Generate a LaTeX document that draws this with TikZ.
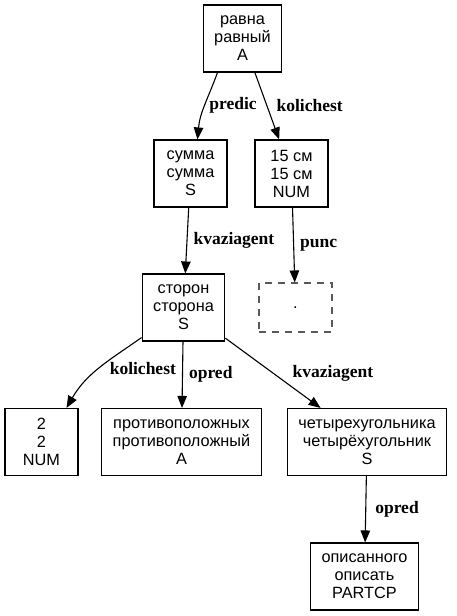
\documentclass[tikz,border=0pt]{standalone}
\usepackage{fontspec}
\setmainfont{Liberation Sans}
\newfontfamily\lblfont{Liberation Serif}
\usetikzlibrary{arrows.meta,positioning}

\begin{document}
\begin{tikzpicture}[x=1pt,y=1pt,>={Triangle[length=12pt,width=9.5pt]},
  word/.style={draw,line width=1.1pt,align=center,minimum width=73pt,
    minimum height=67pt,inner xsep=11pt,font=\fontsize{16.3}{18}\selectfont},
  gap/.style={draw=black!65,dash pattern=on 7pt off 6pt,line width=1.1pt,
    minimum width=73pt,minimum height=49pt,font=\fontsize{16.3}{18}\selectfont},
  rel/.style={font=\lblfont\bfseries\fontsize{17.5}{20}\selectfont,
    anchor=west,inner sep=4pt},
  link/.style={->,line width=1.1pt}]

  \useasboundingbox (0,0) rectangle (456,616);

  % -- NODES ---------------------------------------------------------
  \node[word] (ravna)  at (242.5,577.5) {равна\\равный\\A};
  \node[word] (summa)  at (190.5,442.5) {сумма\\сумма\\S};
  \node[word] (sm)     at (291.5,442.5) {15 см\\15 см\\NUM};
  \node[word] (storon) at (183.5,308.5) {сторон\\сторона\\S};
  \node[gap]  (punct)  at (295.5,308.5) {.};
  \node[word] (dva)    at (41.5,174)    {2\\2\\NUM};
  \node[word] (protiv) at (181.5,174)   {противоположных\\противоположный\\A};
  \node[word] (chetyr) at (367,174)     {четырехугольника\\четырёхугольник\\S};
  \node[word] (opis)   at (364.5,39.5)  {описанного\\описать\\PARTCP};

  % -- LINKS ---------------------------------------------------------
  \draw[link] ([xshift=-25pt]ravna.south) to[out=-110,in=85]
    node[rel]{predic} ([xshift=7pt]summa.north);
  \draw[link] (ravna) -- node[rel,xshift=5pt]{kolichest} (sm);
  \draw[link] (summa) -- node[rel,xshift=2pt]{kvaziagent} (storon);
  \draw[link] (sm) -- node[rel,xshift=2pt]{punc} (punct);
  \draw[link] ([yshift=4pt]storon.south west) to[out=-145,in=60]
    node[rel,xshift=6pt]{kolichest} ([xshift=25pt]dva.north);
  \draw[link] (storon) -- node[rel,xshift=2pt]{opred} (protiv);
  \draw[link] (storon) -- node[rel,xshift=15pt]{kvaziagent} (chetyr);
  \draw[link] (chetyr) -- node[rel,xshift=5pt]{opred} (opis);

\end{tikzpicture}
\end{document}
